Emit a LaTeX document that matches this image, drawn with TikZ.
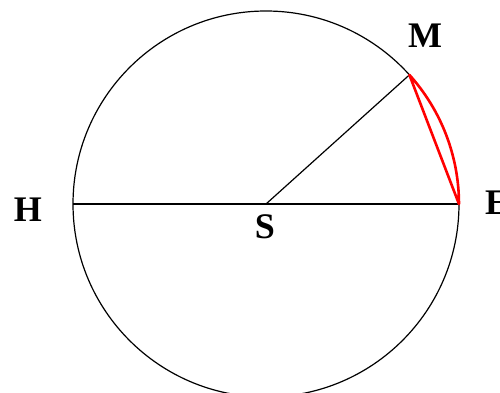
\documentclass[tikz,border=0pt]{standalone}
\usepackage{fontspec}
\setmainfont{Liberation Serif}
\begin{document}
\begin{tikzpicture}[x=1pt,y=1pt,
  blk/.style={line width=1.2pt, black},
  redl/.style={line width=2.6pt, red, line join=round},
  lbl/.style={font=\bfseries\fontsize{36}{36}\selectfont, inner sep=0pt, anchor=center}]
\useasboundingbox (0,0) rectangle (500,392);
\coordinate (S) at (266,188);
\coordinate (H) at (73,188);
\coordinate (E) at (459,188);
\coordinate (M) at (409.4,317.1);
\draw[blk] (S) circle[radius=193pt];
\draw[blk] (H) -- (E);
\draw[blk] (S) -- (M);
\draw[redl] (M) arc[start angle=42, end angle=0, radius=193pt] -- (M) -- cycle;
\node[lbl] (Ml) at (425,356) {M};
\node[lbl] (Hl) at (28,182) {H};
\node[lbl] (Sl) at (265,165) {S};
\node[lbl] (El) at (497,189) {E};
\end{tikzpicture}
\end{document}
